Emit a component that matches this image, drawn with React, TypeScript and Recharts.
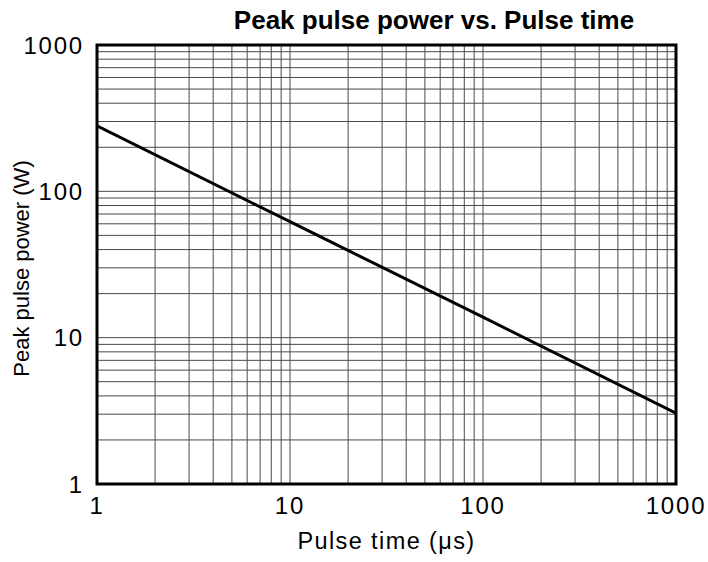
import { LineChart, Line, XAxis, YAxis, CartesianGrid, ReferenceArea, Label } from "recharts";

const pulseTimes = [1, 10, 100, 1000];
const peakPower = [280, 62, 13.8, 3.05];

const decadeLabels = [1, 10, 100, 1000];
const gridTicks = [
  1, 2, 3, 4, 5, 6, 7, 8, 9,
  10, 20, 30, 40, 50, 60, 70, 80, 90,
  100, 200, 300, 400, 500, 600, 700, 800, 900, 1000,
];

const data = pulseTimes.map((t, i) => ({ t, p: peakPower[i] }));

const FONT = '"Liberation Sans", Arial, Helvetica, sans-serif';
const showDecade = (v: number) => (decadeLabels.includes(v) ? String(v) : "");

function YTitle({ viewBox }: any) {
  const cy = viewBox.y + viewBox.height / 2 + 4;
  const cx = 21;
  return (
    <text
      x={cx}
      y={cy}
      transform={`rotate(-90, ${cx}, ${cy})`}
      textAnchor="middle"
      dominantBaseline="central"
      fontFamily={FONT}
      fontSize={22}
      fill="#000"
    >
      Peak pulse power (W)
    </text>
  );
}

export default function App() {
  return (
    <div style={{ position: "absolute", left: 0, top: 0, width: 708, height: 562, background: "#fff" }}>
      <div
        style={{
          position: "absolute",
          top: 5,
          left: 434,
          transform: "translateX(-50%)",
          whiteSpace: "nowrap",
          fontFamily: FONT,
          fontWeight: "bold",
          fontSize: 26,
          lineHeight: "normal",
          color: "#000",
        }}
      >
        Peak pulse power vs. Pulse time
      </div>
      <LineChart
        width={708}
        height={562}
        data={data}
        margin={{ top: 45, right: 32, bottom: 0, left: 0 }}
      >
        <CartesianGrid stroke="#4a4a4a" strokeWidth={1} />
        <XAxis
          dataKey="t"
          type="number"
          scale="log"
          domain={[1, 1000]}
          ticks={gridTicks}
          interval={0}
          tickFormatter={showDecade}
          tickLine={false}
          axisLine={false}
          tickSize={0}
          tickMargin={13}
          height={78}
          allowDataOverflow
          tick={{ fill: "#000", fontSize: 24, fontFamily: FONT, letterSpacing: 1.8 }}
        >
          <Label
            value="Pulse time (μs)"
            position="insideBottom"
            offset={13}
            style={{ fill: "#000", fontSize: 23.5, fontFamily: FONT, letterSpacing: 1.4 }}
          />
        </XAxis>
        <YAxis
          type="number"
          scale="log"
          domain={[1, 1000]}
          ticks={gridTicks}
          interval={0}
          tickFormatter={showDecade}
          tickLine={false}
          axisLine={false}
          tickSize={0}
          tickMargin={13}
          width={97}
          allowDataOverflow
          tick={{ fill: "#000", fontSize: 24, fontFamily: FONT, letterSpacing: 1.8 }}
        >
          <Label content={<YTitle />} />
        </YAxis>
        <ReferenceArea
          x1={1}
          x2={1000}
          y1={1}
          y2={1000}
          fill="none"
          stroke="#000"
          strokeWidth={3}
          ifOverflow="visible"
        />
        <Line
          type="linear"
          dataKey="p"
          stroke="#000"
          strokeWidth={3}
          dot={false}
          isAnimationActive={false}
        />
      </LineChart>
    </div>
  );
}
